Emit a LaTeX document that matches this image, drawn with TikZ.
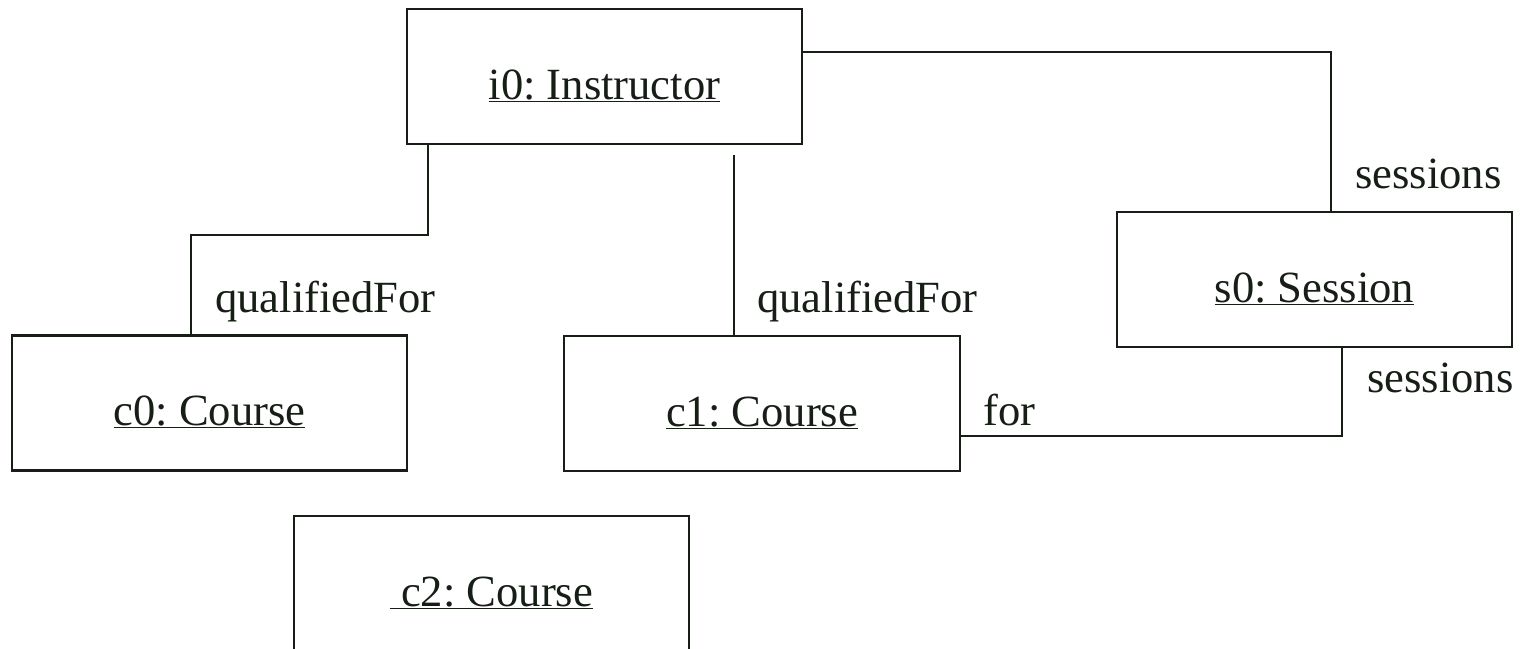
\documentclass[tikz,border=0pt]{standalone}
\usepackage{fontspec}
\setmainfont{Liberation Serif}
\usetikzlibrary{calc}
\frenchspacing
\definecolor{ink}{RGB}{22,30,22}
\tikzset{
  obj/.style={draw=ink, line width=2.2pt, rectangle, inner sep=0pt, text=ink,
    minimum width=395pt, minimum height=135pt, text height=45pt, text depth=0pt,
    font=\fontsize{44.6pt}{54pt}\selectfont},
  lbl/.style={anchor=base west, inner sep=0pt, text=ink,
    font=\fontsize{44.6pt}{54pt}\selectfont},
  link/.style={draw=ink, line width=2.2pt}
}
\begin{document}
\begin{tikzpicture}[x=1pt,y=-1pt]
\clip (0,0) rectangle (1520,648);
\fill[white] (0,0) rectangle (1520,648);
\node[obj] (i0) at (604.5,76.5) {\underline{i0: Instructor}};
\node[obj] (s0) at (1314.5,279.5) {\underline{s0: Session}};
\node[obj] (c0) at (209.5,403) {\underline{c0: Course}};
\node[obj, minimum width=396pt] (c1) at (762,403.5) {\underline{c1: Course}};
\node[obj] (c2) at (491.5,583.5) {\underline{\ c2: Course}};
% connectors
\draw[link] ($(i0.south west)+(22,0)$) -- ++(0,90) -| ($(c0.north west)+(180,0)$);
\coordinate (q1) at (734,155);
\draw[link] (q1) -- (q1 |- c1.north);
\draw[link] ($(i0.north east)+(0,44)$) -| ($(s0.north west)+(215,0)$);
\draw[link] ($(c1.north east)+(0,101)$) -| ($(s0.south west)+(226,0)$);
% labels
\node[lbl] (l1) at (215,312) {qualifiedFor};
\node[lbl] (l2) at (757,312) {qualifiedFor};
\node[lbl] (l3) at (1355,188) {sessions};
\node[lbl] (l4) at (1367,392) {sessions};
\node[lbl] (l5) at (983,425) {for};
\end{tikzpicture}
\end{document}
